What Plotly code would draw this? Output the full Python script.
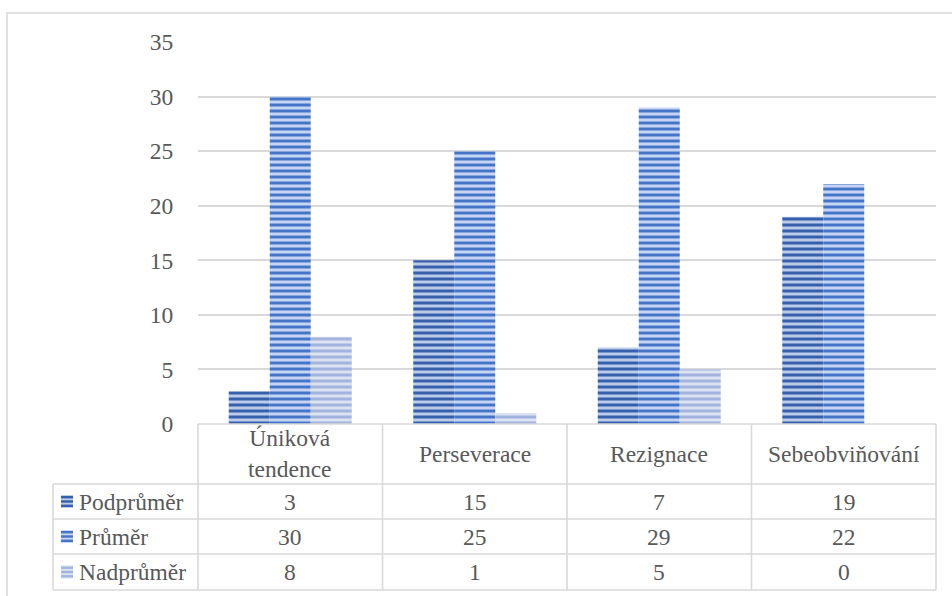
import plotly.graph_objects as go

# Coping-strategy scores by level
categories = ["Úniková tendence", "Perseverace", "Rezignace", "Sebeobviňování"]
series_names = ["Podprůměr", "Průměr", "Nadprůměr"]
podprumer = [3, 15, 7, 19]
prumer = [30, 25, 29, 22]
nadprumer = [8, 1, 5, 0]
series_values = [podprumer, prumer, nadprumer]
y_ticks = [0, 5, 10, 15, 20, 25, 30, 35]

# stripe colours: (background, stripe)
styles = [("#bccbe8", "#3660ad"), ("#c6d5f1", "#4674c8"), ("#dbe2f2", "#a2b3de")]

W, H = 952, 596
ML, MR, MT, MB = 198, 16, 42, 172
PW = W - ML - MR
PH = H - MT - MB
FONT = "Liberation Serif, Times New Roman, serif"
TXT = "#595959"
GRID = "#d9d9d9"


def px(x):
    return (x - ML) / PW


def py(y):
    return (H - MB - y) / PH


fig = go.Figure()
for name, vals, (bg, fg) in zip(series_names, series_values, styles):
    fig.add_trace(go.Bar(
        name=name, x=categories, y=vals,
        marker=dict(color=bg, line=dict(width=0),
                    pattern=dict(shape="-", fgcolor=fg, bgcolor=bg, fgopacity=1,
                                 fillmode="overlay", size=6, solidity=0.5)),
        showlegend=False,
    ))

shapes = []
annotations = []


def hline(y, x0, x1):
    shapes.append(dict(type="line", xref="paper", yref="paper",
                       x0=px(x0), x1=px(x1), y0=py(y), y1=py(y),
                       line=dict(color=GRID, width=1.6)))


def vline(x, y0, y1):
    shapes.append(dict(type="line", xref="paper", yref="paper",
                       x0=px(x), x1=px(x), y0=py(y0), y1=py(y1),
                       line=dict(color=GRID, width=1.6)))


# outer chart frame
shapes.append(dict(type="rect", xref="paper", yref="paper",
                   x0=px(7), x1=px(965), y0=py(13), y1=py(612),
                   line=dict(color=GRID, width=1.6), fillcolor="rgba(0,0,0,0)"))

# data table grid
n = len(categories)
col_w = PW / n
row_tops = [484, 519, 554, 590]
label_left = 53
hline(424, ML, W - MR)
for y in row_tops:
    hline(y, label_left, W - MR)
vline(label_left, row_tops[0], row_tops[-1])
for i in range(n + 1):
    vline(ML + i * col_w, 424, row_tops[-1])

# category header cells
for i, cat in enumerate(categories):
    annotations.append(dict(xref="paper", yref="paper", x=px(ML + (i + 0.5) * col_w),
                            y=py(454), text=cat.replace(" ", "<br>"), showarrow=False,
                            xanchor="center", yanchor="middle",
                            font=dict(family=FONT, size=23.5, color=TXT)))

# series rows: key, name, values
for r, (name, vals, (bg, fg)) in enumerate(zip(series_names, series_values, styles)):
    top, bot = row_tops[r], row_tops[r + 1]
    cy = (top + bot) / 2
    k0, k1 = cy - 6.5, cy + 6.5
    shapes.append(dict(type="rect", xref="paper", yref="paper",
                       x0=px(61), x1=px(73), y0=py(k0), y1=py(k1),
                       line=dict(width=0), fillcolor=bg))
    for s in range(3):
        ys = k0 + 1 + s * 4.3
        shapes.append(dict(type="rect", xref="paper", yref="paper",
                           x0=px(61), x1=px(73), y0=py(ys), y1=py(ys + 2.4),
                           line=dict(width=0), fillcolor=fg))
    annotations.append(dict(xref="paper", yref="paper", x=px(77), y=py(cy),
                            text=name, showarrow=False, xanchor="left", yanchor="middle",
                            font=dict(family=FONT, size=23.5, color=TXT)))
    for i, v in enumerate(vals):
        annotations.append(dict(xref="paper", yref="paper", x=px(ML + (i + 0.5) * col_w),
                                y=py(cy), text=str(v), showarrow=False,
                                xanchor="center", yanchor="middle",
                                font=dict(family=FONT, size=23.5, color=TXT)))

fig.update_layout(
    width=W, height=H,
    margin=dict(l=ML, r=MR, t=MT, b=MB, pad=0),
    paper_bgcolor="white", plot_bgcolor="white",
    barmode="group", bargap=1 / 3, bargroupgap=0,
    font=dict(family=FONT, size=23.5, color=TXT),
    xaxis=dict(showticklabels=False, showgrid=False, zeroline=False, showline=False,
               ticks="", fixedrange=True),
    yaxis=dict(range=[0, 35], tickvals=y_ticks, showgrid=True, gridcolor=GRID,
               gridwidth=1.6, zeroline=False, showline=False, ticks="outside",
               ticklen=19, tickcolor="rgba(0,0,0,0)",
               tickfont=dict(family=FONT, size=23.5, color=TXT)),
    shapes=shapes, annotations=annotations,
)

fig.write_html("out.html")
